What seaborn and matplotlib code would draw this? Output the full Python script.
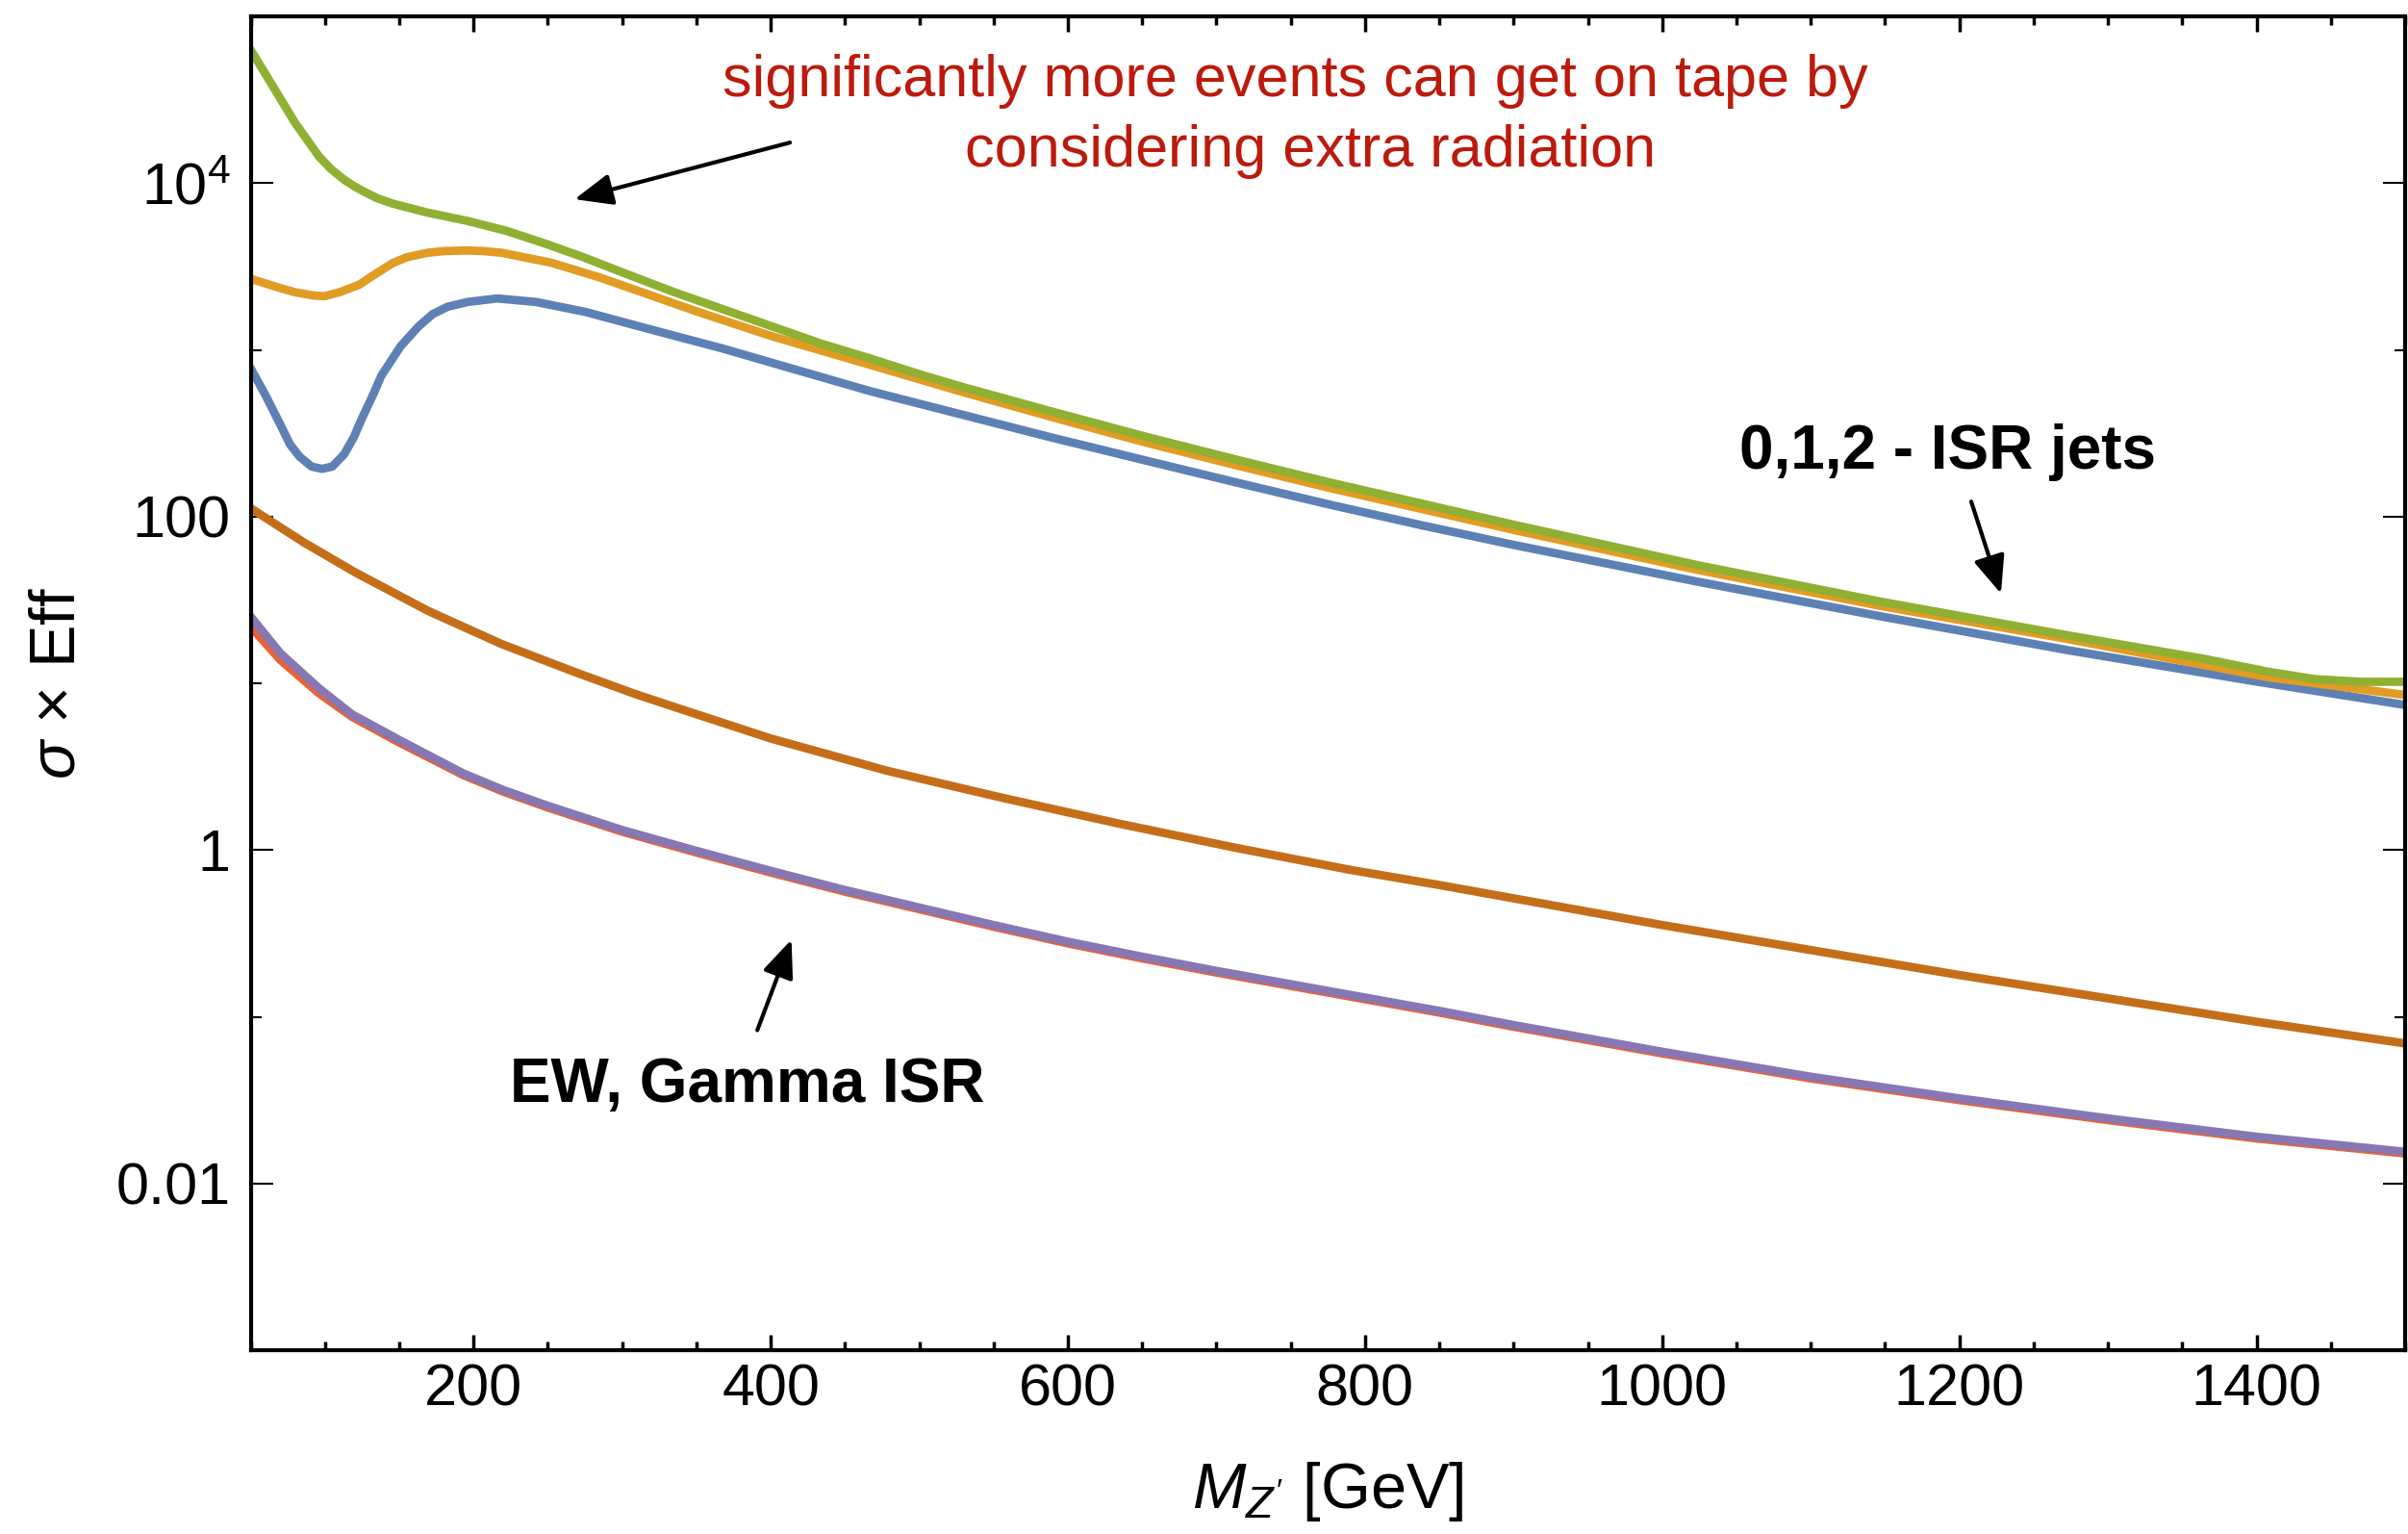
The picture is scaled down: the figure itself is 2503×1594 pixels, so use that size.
import numpy as np
import matplotlib
matplotlib.use("Agg")
import matplotlib.pyplot as plt
import seaborn as sns
from matplotlib.ticker import FixedLocator, FixedFormatter, MultipleLocator, NullFormatter

# ---- data: M_Z' [GeV] and log10(sigma x Eff) for each sample ----
mass_0jet = [50, 60, 70, 76.5, 83, 91, 98, 105, 113, 119.5, 124.5, 133, 138, 151, 163,
             172.5, 182.5, 196, 216, 242, 275, 318, 368, 418, 467, 528, 590, 652, 714, 776,
             838, 900, 1024, 1148, 1272, 1400, 1500]
log_0jet = [2.89, 2.728, 2.551, 2.433, 2.359, 2.30, 2.286, 2.30, 2.374, 2.477, 2.58, 2.742,
            2.845, 3.022, 3.14, 3.214, 3.258, 3.287, 3.308, 3.287, 3.228, 3.125, 3.007,
            2.878, 2.752, 2.613, 2.472, 2.337, 2.203, 2.072, 1.948, 1.83, 1.609, 1.40, 1.20,
            1.01, 0.87]

mass_1jet = [50, 70, 80, 93, 100, 110, 123, 133, 146, 155, 169, 180, 196, 207, 219, 252,
             285, 318, 351, 401, 467, 528, 590, 652, 714, 776, 900, 1024, 1148, 1272, 1408,
             1500]
log_1jet = [3.426, 3.37, 3.345, 3.325, 3.322, 3.346, 3.39, 3.449, 3.522, 3.555, 3.582,
            3.592, 3.596, 3.592, 3.582, 3.523, 3.434, 3.331, 3.228, 3.081, 2.91, 2.75, 2.595,
            2.445, 2.306, 2.172, 1.92, 1.68, 1.462, 1.267, 1.036, 0.93]

mass_2jet = [50, 63, 80, 96, 104, 113, 119, 126, 135, 146, 169, 196, 222, 249, 275, 302,
             335, 368, 401, 434, 467, 500, 528, 590, 652, 714, 776, 900, 1024, 1148, 1272,
             1365, 1408, 1439, 1470, 1500]
log_2jet = [4.80, 4.61, 4.36, 4.16, 4.085, 4.02, 3.985, 3.95, 3.91, 3.876, 3.823, 3.773,
            3.714, 3.635, 3.552, 3.458, 3.346, 3.243, 3.14, 3.037, 2.948, 2.854, 2.78, 2.628,
            2.48, 2.34, 2.205, 1.951, 1.708, 1.488, 1.289, 1.146, 1.069, 1.025, 1.009, 1.009]

mass_ew = [50, 70, 96, 118, 150, 193, 220, 250, 300, 350, 400, 450, 500, 550, 600, 650,
           700, 750, 800, 850, 900, 1000, 1100, 1200, 1300, 1400, 1500]
log_ew = [1.34, 1.14, 0.94, 0.80, 0.645, 0.45, 0.35, 0.255, 0.11, -0.015, -0.135, -0.25,
          -0.355, -0.46, -0.56, -0.65, -0.735, -0.815, -0.895, -0.975, -1.06, -1.22, -1.37,
          -1.50, -1.62, -1.73, -1.82]

mass_gamma = [50, 70, 96, 118, 150, 193, 220, 250, 300, 350, 400, 450, 500, 550, 600, 650,
              700, 750, 800, 850, 900, 1000, 1100, 1200, 1300, 1400, 1500]
log_gamma = [1.40, 1.18, 0.97, 0.815, 0.66, 0.46, 0.36, 0.265, 0.12, -0.005, -0.125, -0.24,
             -0.345, -0.45, -0.55, -0.64, -0.725, -0.805, -0.885, -0.965, -1.05, -1.21,
             -1.36, -1.49, -1.61, -1.72, -1.81]

mass_other = [50, 86, 120, 169, 219, 268, 309, 343, 400, 478, 556, 634, 712, 790, 850, 900,
              1000, 1100, 1200, 1300, 1400, 1500]
log_other = [2.05, 1.844, 1.667, 1.436, 1.235, 1.068, 0.935, 0.835, 0.669, 0.476, 0.313,
             0.159, 0.015, -0.119, -0.21, -0.29, -0.45, -0.60, -0.75, -0.89, -1.03, -1.16]

x_ticks = [200, 400, 600, 800, 1000, 1200, 1400]
y_ticks = [1e-2, 1, 1e2, 1e4]
y_tick_labels = ["0.01", "1", "100", r"$10^{4}$"]
y_minor_ticks = [1e-3, 1e-1, 1e1, 1e3, 1e5]

series = [
    (mass_0jet, log_0jet, "#5E81B5"),
    (mass_1jet, log_1jet, "#E19C24"),
    (mass_2jet, log_2jet, "#8FB032"),
    (mass_ew, log_ew, "#EB6235"),
    (mass_gamma, log_gamma, "#8778B3"),
    (mass_other, log_other, "#C56E1A"),
]

# ---- style ----
sns.set_style("ticks")
plt.rcParams["font.family"] = ["Liberation Sans", "DejaVu Sans"]
plt.rcParams["mathtext.fontset"] = "custom"
plt.rcParams["mathtext.rm"] = "Liberation Sans"
plt.rcParams["mathtext.it"] = "Liberation Sans:italic"
plt.rcParams["mathtext.bf"] = "Liberation Sans:bold"
for key in ("text.color", "axes.labelcolor", "xtick.color", "ytick.color",
            "xtick.labelcolor", "ytick.labelcolor", "axes.edgecolor"):
    plt.rcParams[key] = "black"

W, H = 2503, 1594
fig = plt.figure(figsize=(W / 100, H / 100), dpi=100)
left_px, right_px, top_px, bottom_px = 260.5, 2500, 17, 1403
ax = fig.add_axes([left_px / W, 1 - bottom_px / H,
                   (right_px - left_px) / W, (bottom_px - top_px) / H])

for mass, logv, color in series:
    sns.lineplot(x=np.asarray(mass, float), y=10 ** np.asarray(logv, float), ax=ax,
                 color=color, lw=6.3, estimator=None, sort=False, legend=False)

ax.set_yscale("log")
ax.set_xlim(50, 1500)
ax.set_ylim(1e-3, 1e5)

ax.xaxis.set_major_locator(FixedLocator(x_ticks))
ax.xaxis.set_minor_locator(MultipleLocator(50))
ax.yaxis.set_major_locator(FixedLocator(y_ticks))
ax.yaxis.set_major_formatter(FixedFormatter(y_tick_labels))
ax.yaxis.set_minor_locator(FixedLocator(y_minor_ticks))
ax.yaxis.set_minor_formatter(NullFormatter())

ax.tick_params(axis="both", which="both", direction="in", top=True, right=True,
               colors="black")
ax.tick_params(axis="x", which="major", length=11.5, width=2.5, labelsize=44, pad=10)
ax.tick_params(axis="x", which="minor", length=6.5, width=2.5)
ax.tick_params(axis="y", which="major", length=16.5, width=1.5, labelsize=44, pad=15)
ax.tick_params(axis="y", which="minor", length=8, width=1.5)

for sp in ax.spines.values():
    sp.set_linewidth(3)
    sp.set_color("black")

ax.set_xlabel(r"$M_{Z'}$ [GeV]", fontsize=48, color="black")
ax.xaxis.set_label_coords(0.5, -0.082)
ax.set_ylabel(r"$\sigma$ × Eff", fontsize=48, va="center", color="black")
ax.yaxis.set_label_coords((60 - left_px) / (right_px - left_px), 0.5)

# ---- annotations ----
red = "#BC1A0C"
fig.text(1346 / W, 1 - 100 / H, "significantly more events can get on tape by",
         color=red, fontsize=44, ha="center", va="baseline")
fig.text(1362 / W, 1 - 173 / H, "considering extra radiation",
         color=red, fontsize=44, ha="center", va="baseline")
fig.text(2025 / W, 1 - 487 / H, "0,1,2 - ISR jets", fontsize=46, fontweight="bold",
         ha="center", va="baseline", color="black")
fig.text(777 / W, 1 - 1145 / H, "EW, Gamma ISR", fontsize=46, fontweight="bold",
         ha="center", va="baseline", color="black")

arrow = dict(arrowstyle="-|>,head_length=0.6,head_width=0.25", color="black", lw=3,
             mutation_scale=40, shrinkA=0, shrinkB=0)
ax.annotate("", xy=(268, 8.0e3), xytext=(413, 1.75e4), arrowprops=arrow)
ax.annotate("", xy=(1228, 34.5), xytext=(1208, 123), arrowprops=arrow)
ax.annotate("", xy=(414, 0.29), xytext=(391, 0.083), arrowprops=arrow)

fig.savefig("out.png", dpi=100)
